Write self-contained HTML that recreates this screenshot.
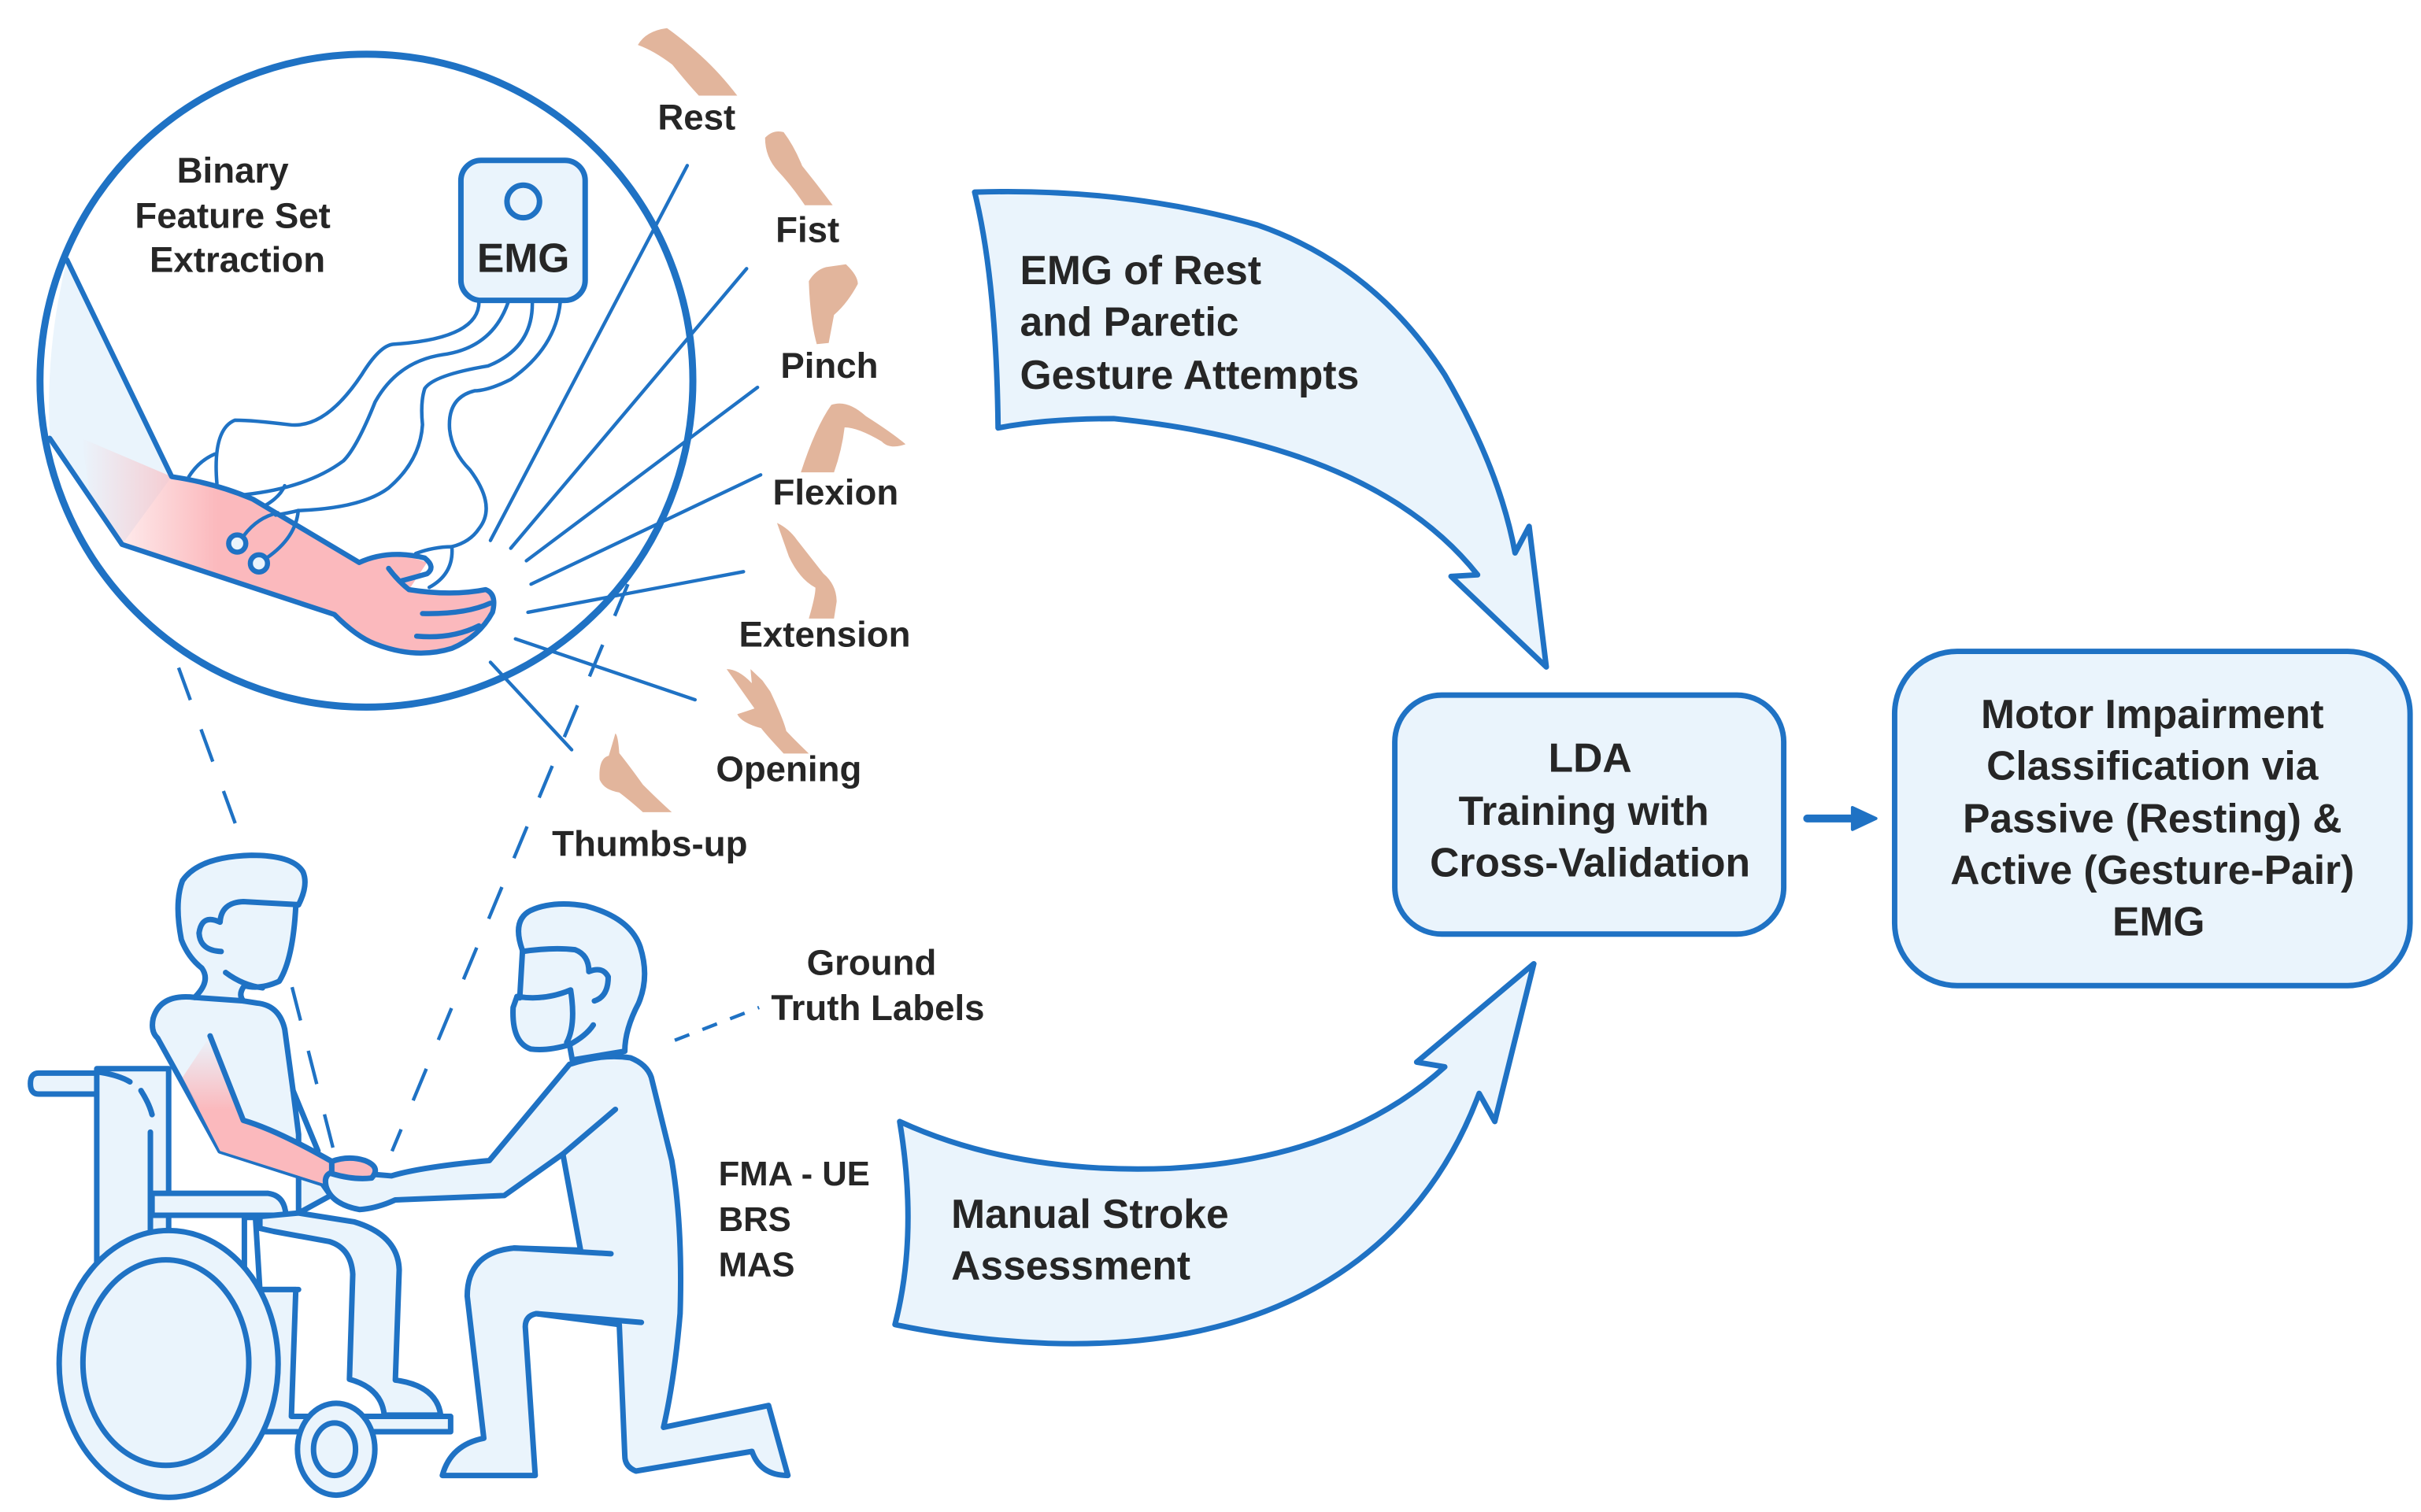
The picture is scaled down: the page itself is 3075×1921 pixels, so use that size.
<!DOCTYPE html>
<html><head><meta charset="utf-8"><style>
html,body{margin:0;padding:0;background:#fff;}
svg{display:block;}
text{font-family:"Liberation Sans",Arial,sans-serif;font-weight:bold;fill:#262626;}
.ns *{vector-effect:non-scaling-stroke;}
</style></head><body>
<svg width="3075" height="1921" viewBox="0 0 1550 968" preserveAspectRatio="none" xmlns="http://www.w3.org/2000/svg">
<defs>
<linearGradient id="armg" gradientUnits="userSpaceOnUse" x1="180" y1="0" x2="480" y2="0"><stop offset="0" stop-color="#fbb9bd" stop-opacity="0"/><stop offset="1" stop-color="#fbb9bd"/></linearGradient>
<linearGradient id="parm" x1="0" y1="0" x2="0" y2="1"><stop offset="0" stop-color="#fbb9bd" stop-opacity="0"/><stop offset="0.5" stop-color="#fbb9bd"/><stop offset="1" stop-color="#fbb9bd"/></linearGradient>
</defs>
<g stroke="#1f72c4" stroke-width="3.5" fill="#eaf4fc" stroke-linejoin="round" stroke-linecap="round">
<!-- dashed projection lines -->
<g fill="none" stroke-width="2.2" stroke-dasharray="22 20" stroke-linecap="butt">
<line x1="100" y1="388" x2="156" y2="542"/>
<line x1="402" y1="374" x2="251" y2="737"/>
<line x1="187" y1="632" x2="214" y2="738"/>
<line x1="229" y1="138" x2="278" y2="138" stroke-dasharray="9 9"/>
<line x1="432" y1="666" x2="486" y2="645" stroke-dasharray="10 9"/>
</g>
<!-- big circle -->
<circle cx="234.6" cy="243.7" r="209" fill="#fff" stroke-width="4.5"/>
<!-- circle contents in zoom coords -->
<g class="ns" transform="translate(0,20.2) scale(0.2893)" stroke-width="6.5">
<path d="M148,505 L380,985 L270,1135 L110,900 Q100,700 148,505Z" stroke="none"/>
<path d="M180,900 L380,985 Q480,1000 560,1035 L795,1175 Q870,1145 945,1175 L905,1235 Q1000,1250 1075,1235 Q1100,1250 1090,1285 Q1060,1340 1000,1365 Q920,1390 830,1355 L740,1290 L270,1135 L200,1030Z" fill="url(#armg)" stroke="none"/>
<g fill="none" stroke-width="4.5">
<path d="M1060,598 Q1060,680 870,692 Q840,695 800,760 Q720,880 640,870 Q560,860 520,860 Q470,880 480,1000"/>
<path d="M1125,598 Q1090,700 980,715 Q880,730 830,820 Q790,920 760,950 Q680,1010 540,1025"/>
<path d="M1178,598 Q1180,700 1080,740 Q960,760 940,790 Q930,820 935,870 Q930,950 860,1010 Q800,1055 660,1060 Q640,1065 610,1070"/>
<path d="M1240,598 Q1230,700 1130,770 Q1080,795 1050,795 Q990,810 995,880 Q1000,930 1040,970 Q1100,1050 1060,1100 Q1040,1130 1000,1140 Q1005,1200 950,1230"/>
<path d="M540,1115 Q570,1075 615,1065"/>
<path d="M590,1165 Q655,1120 660,1060"/>
<path d="M418,985 Q440,950 475,935"/>
<path d="M585,1050 Q620,1030 630,1005"/>
<path d="M920,1155 Q960,1140 1000,1140"/>
</g>
<path d="M148,505 L380,985 Q480,1000 560,1035 L795,1175 Q860,1145 940,1165 Q965,1185 945,1200 Q910,1210 890,1215" fill="none"/>
<path d="M860,1188 Q880,1215 905,1235 Q1000,1250 1075,1235 Q1100,1245 1090,1285 Q1060,1340 1000,1365 Q920,1390 830,1355 Q790,1340 740,1290 L270,1135 L110,900" fill="none"/>
<path d="M935,1288 Q1030,1290 1085,1265 M922,1338 Q1000,1345 1060,1315" fill="none"/>
<circle cx="525" cy="1133" r="19"/><circle cx="573" cy="1177" r="19"/>
<rect x="1020" y="285" width="275" height="310" rx="45" stroke-width="7"/>
<circle cx="1158" cy="376" r="36" fill="none" stroke-width="7"/>
</g>
<!-- radiating lines -->
<g fill="none" stroke-width="2.2">
<line x1="314" y1="346" x2="440" y2="106"/>
<line x1="327" y1="351" x2="478" y2="172"/>
<line x1="337" y1="359" x2="485" y2="248"/>
<line x1="340" y1="374" x2="487" y2="304"/>
<line x1="338" y1="392" x2="476" y2="366"/>
<line x1="330" y1="409" x2="445" y2="448"/>
<line x1="314" y1="424" x2="366" y2="480"/>
</g>
<!-- arrows -->
<path d="M624,123 Q720,120 805,144 Q880,170 925,240 Q960,300 970,354 L979,337 L990,427 L929,369 L946,368 Q880,285 713,268 Q670,268 639,274 Q638,180 624,123 Z"/>
<path d="M576,718 Q650,752 749,748 Q860,742 925,683 L907,680 L982,617 L957,718 L947,700 C910,800 820,865 671,860 Q620,858 573,848 Q588,790 576,718 Z"/>
<!-- boxes -->
<rect x="893" y="445" width="249" height="153" rx="30"/>
<rect x="1213" y="417" width="330" height="214" rx="40"/>
<line x1="1157" y1="524" x2="1188" y2="524" stroke-width="5"/>
<path d="M1186,517 L1201,524 L1186,531Z" fill="#1f72c4" stroke-width="2"/>
<!-- people in zoom3 coords -->
<g class="ns" transform="translate(0,533) scale(0.354,0.28)" stroke-width="7">
<path d="M175,550 L70,550 Q55,550 55,574 Q55,598 70,598 L175,598"/>
<path d="M175,990 L175,540 L305,540 L305,910"/>
<path d="M180,548 Q215,555 235,570 M255,590 Q270,620 275,645 M272,685 L272,910" fill="none"/>
<path d="M352,377 Q290,368 277,425 Q272,455 285,470 L398,728 L583,803 L598,830 L540,870 L540,690 L530,590 L515,450 Q505,395 465,390 L440,385 Q430,370 442,350 Z"/>
<path d="M330,560 L380,465 L440,658 Q520,690 600,752 L660,790 L585,803 L398,728 Z" fill="url(#parm)" stroke="none"/>
<path d="M380,465 L440,658 Q500,680 600,752" fill="none"/>
<path d="M530,590 L575,728" fill="none"/>
<path d="M540,1045 L470,1045 L462,880 L442,880 L442,1000" fill="none"/>
<path d="M275,825 L485,825 Q515,830 517,875 L275,875 Z"/>
<path d="M540,870 L640,890 Q720,920 722,1000 L715,1252 Q790,1265 797,1332 L695,1332 Q690,1270 632,1250 L638,1010 Q635,950 595,935 L495,912 L470,905 L470,878 Z"/>
<path d="M470,1045 L535,1045 L527,1335 L815,1335 L815,1370 L470,1370"/>
<ellipse cx="305" cy="1215" rx="198" ry="305"/>
<ellipse cx="300" cy="1212" rx="150" ry="235" fill="none"/>
<ellipse cx="608" cy="1410" rx="70" ry="105"/>
<ellipse cx="605" cy="1410" rx="38" ry="60"/>
<!-- patient head -->
<path d="M540,165 Q558,120 548,90 Q530,52 455,52 Q360,55 330,110 Q315,160 328,245 Q340,285 365,310 Q382,340 352,377 L440,385 Q430,370 442,350 Q470,360 505,340 Q530,290 535,168 Z"/>
<path d="M540,165 L440,158 Q400,160 398,205 Q365,185 360,230 Q362,270 400,272" fill="none"/>
<path d="M408,320 Q440,350 475,355" fill="none"/>
<!-- clinician -->
<path d="M1030,530 Q1090,505 1140,515 Q1170,530 1178,560 L1215,750 Q1235,900 1230,1100 Q1220,1250 1200,1360 L1390,1310 L1425,1470 Q1375,1470 1360,1415 L1150,1460 Q1130,1450 1130,1425 L1120,1125 L970,1100 Q950,1105 950,1130 L968,1470 L800,1470 Q815,1400 875,1385 L845,1060 Q845,960 930,950 L1050,955 L1018,735 L912,830 L715,840 Q680,860 650,862 Q600,850 590,810 Q585,785 598,778 Q620,765 660,780 L708,785 Q760,765 885,750 Z"/>
<path d="M930,950 L1105,963 M970,1100 L1160,1120 M1018,735 L1113,633" fill="none"/>
<path d="M600,752 Q630,738 660,750 Q690,765 672,790 Q640,795 600,780 Z" fill="#fbb9bd"/>
<path d="M945,270 Q925,200 960,178 Q1000,155 1060,168 Q1140,195 1158,262 Q1175,330 1155,390 Q1130,450 1130,500 L1035,520 L1030,485 Q990,500 960,495 Q925,480 928,400 L935,375 L940,378 Z"/>
<path d="M945,272 Q1000,262 1040,268 Q1065,280 1065,318 Q1090,305 1100,330 Q1100,375 1075,385" fill="none"/>
<path d="M935,375 Q985,385 1032,360 Q1042,440 1025,480 M1073,440 Q1060,465 1030,485" fill="none"/>
</g>
</g>
<!-- hand pictures (zoom5 coords) -->
<g transform="translate(393.1,0) scale(0.1697,0.36)" fill="#e2b59c">
<path d="M90,80 Q120,55 200,50 Q260,70 330,100 Q400,130 465,170 L320,170 Q280,150 220,115 Q150,90 90,80Z"/>
<path d="M570,245 Q600,230 640,235 Q680,260 710,295 Q770,330 825,365 L720,365 Q670,330 620,305 Q570,280 570,245Z"/>
<path d="M735,500 Q760,480 800,475 L875,470 Q920,490 920,505 Q880,540 830,560 L810,610 L765,612 Q740,570 735,500Z"/>
<path d="M705,840 Q760,760 820,720 Q880,710 950,740 Q1050,770 1100,790 Q1040,800 1010,785 Q920,760 870,760 Q860,800 830,840Z"/>
<path d="M615,930 Q660,940 690,960 Q740,990 790,1020 Q840,1040 840,1070 L830,1100 L735,1100 Q760,1060 760,1045 Q700,1030 660,990Z"/>
<path d="M425,1190 Q470,1190 520,1215 L515,1190 L560,1210 L590,1230 Q640,1280 650,1300 Q690,1320 735,1340 L640,1340 Q580,1310 555,1295 Q480,1285 465,1270 Q500,1265 530,1260 Z"/>
</g>
<g transform="translate(302.4,277.2) scale(0.168)" fill="#e2b59c">
<path d="M545,1145 Q555,1150 560,1220 Q600,1270 650,1340 Q710,1400 760,1445 L650,1445 Q600,1400 560,1370 Q500,1360 485,1320 Q480,1240 520,1230 Q535,1180 545,1145Z"/>
</g>
<!-- texts -->
<g font-size="23" text-anchor="middle">
<text x="149" y="117">Binary</text>
<text x="149" y="146">Feature Set</text>
<text x="152" y="174">Extraction</text>
<text x="335" y="174" font-size="26">EMG</text>
<text x="446" y="83">Rest</text>
<text x="517" y="155">Fist</text>
<text x="531" y="242">Pinch</text>
<text x="535" y="323">Flexion</text>
<text x="528" y="414">Extension</text>
<text x="505" y="500">Opening</text>
<text x="416" y="548">Thumbs-up</text>
<text x="558" y="624">Ground</text>
<text x="562" y="653">Truth Labels</text>
</g>
<g font-size="22">
<text x="460" y="759">FMA - UE</text>
<text x="460" y="788">BRS</text>
<text x="460" y="817">MAS</text>
</g>
<g font-size="26">
<text x="653" y="182">EMG of Rest</text>
<text x="653" y="215">and Paretic</text>
<text x="653" y="249">Gesture Attempts</text>
<text x="609" y="786">Manual Stroke</text>
<text x="609" y="819">Assessment</text>
</g>
<g font-size="26" text-anchor="middle">
<text x="1018" y="494">LDA</text>
<text x="1014" y="528">Training with</text>
<text x="1018" y="561">Cross-Validation</text>
<text x="1378" y="466">Motor Impairment</text>
<text x="1378" y="499">Classification via</text>
<text x="1378" y="533">Passive (Resting) &amp;</text>
<text x="1378" y="566">Active (Gesture-Pair)</text>
<text x="1382" y="599">EMG</text>
</g>
</svg>
</body></html>
